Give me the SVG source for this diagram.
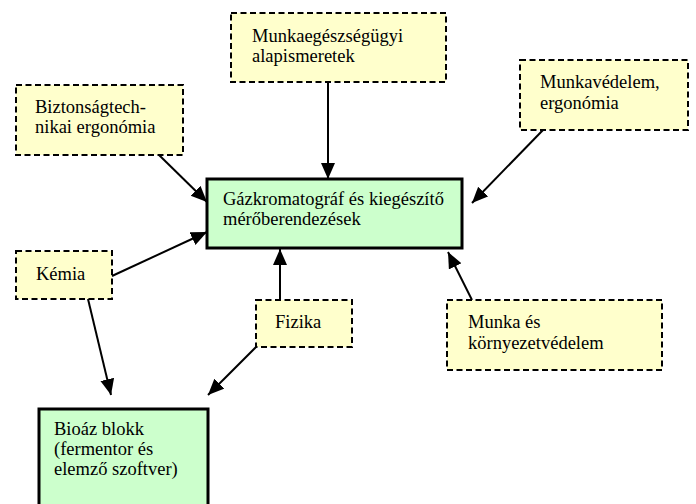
<svg xmlns="http://www.w3.org/2000/svg" width="696" height="504" viewBox="0 0 696 504">
<defs>
<marker id="ah" markerUnits="userSpaceOnUse" markerWidth="18" markerHeight="16" refX="16" refY="7" orient="auto">
<path d="M0,0 L16,7 L0,14 z" fill="#000"/>
</marker>
<style>
.dash{fill:#FFFFCC;stroke:#000;stroke-width:2;stroke-dasharray:6 3.5}
.solid{fill:#CCFFCC;stroke:#000;stroke-width:3}
.t{font-family:'Liberation Serif','Times New Roman',serif;font-size:18.5px;fill:#000}
.conn line{stroke:#000;stroke-width:2;marker-end:url(#ah)}
</style>
</defs>
<rect width="696" height="504" fill="#fff"/>
<g font-family="Liberation Serif, Times New Roman, serif" font-size="18.5">
<g id="munkaegeszseg">
<rect class="dash" x="231" y="13" width="215" height="69"/>
<text class="t" x="252" y="42">Munkaegészségügyi</text>
<text class="t" x="252" y="62">alapismeretek</text>
</g>
<g id="biztonsag">
<rect class="dash" x="16" y="85" width="167" height="70"/>
<text class="t" x="35" y="113">Biztonságtech-</text>
<text class="t" x="35" y="133">nikai ergonómia</text>
</g>
<g id="munkavedelem">
<rect class="dash" x="520" y="60" width="168" height="70"/>
<text class="t" x="540" y="88">Munkavédelem,</text>
<text class="t" x="540" y="109">ergonómia</text>
</g>
<g id="gazkromatograf">
<rect class="solid" x="207" y="179" width="255" height="69"/>
<text class="t" x="223" y="205">Gázkromatográf és kiegészítő</text>
<text class="t" x="223" y="225">mérőberendezések</text>
</g>
<g id="kemia">
<rect class="dash" x="16" y="251" width="96" height="48"/>
<text class="t" x="36" y="280">Kémia</text>
</g>
<g id="fizika">
<rect class="dash" x="256" y="300" width="96" height="47"/>
<text class="t" x="275" y="328">Fizika</text>
</g>
<g id="munkaeskornyezet">
<rect class="dash" x="447" y="300" width="215" height="70"/>
<text class="t" x="468" y="328">Munka és</text>
<text class="t" x="468" y="349">környezetvédelem</text>
</g>
<g id="bioaz">
<rect class="solid" x="39" y="409" width="169" height="110"/>
<text class="t" x="54" y="435">Bioáz blokk</text>
<text class="t" x="54" y="455">(fermentor és</text>
<text class="t" x="54" y="475">elemző szoftver)</text>
</g>
</g>
<g class="conn" id="connectors">
<line x1="328" y1="82" x2="328" y2="179"/>
<line x1="159" y1="155" x2="207" y2="202"/>
<line x1="543" y1="130" x2="472" y2="203"/>
<line x1="112" y1="276" x2="207" y2="232"/>
<line x1="280" y1="300" x2="280" y2="249"/>
<line x1="472" y1="300" x2="448" y2="252"/>
<line x1="88" y1="299" x2="111" y2="395"/>
<line x1="256" y1="347" x2="208" y2="395"/>
</g>
</svg>
